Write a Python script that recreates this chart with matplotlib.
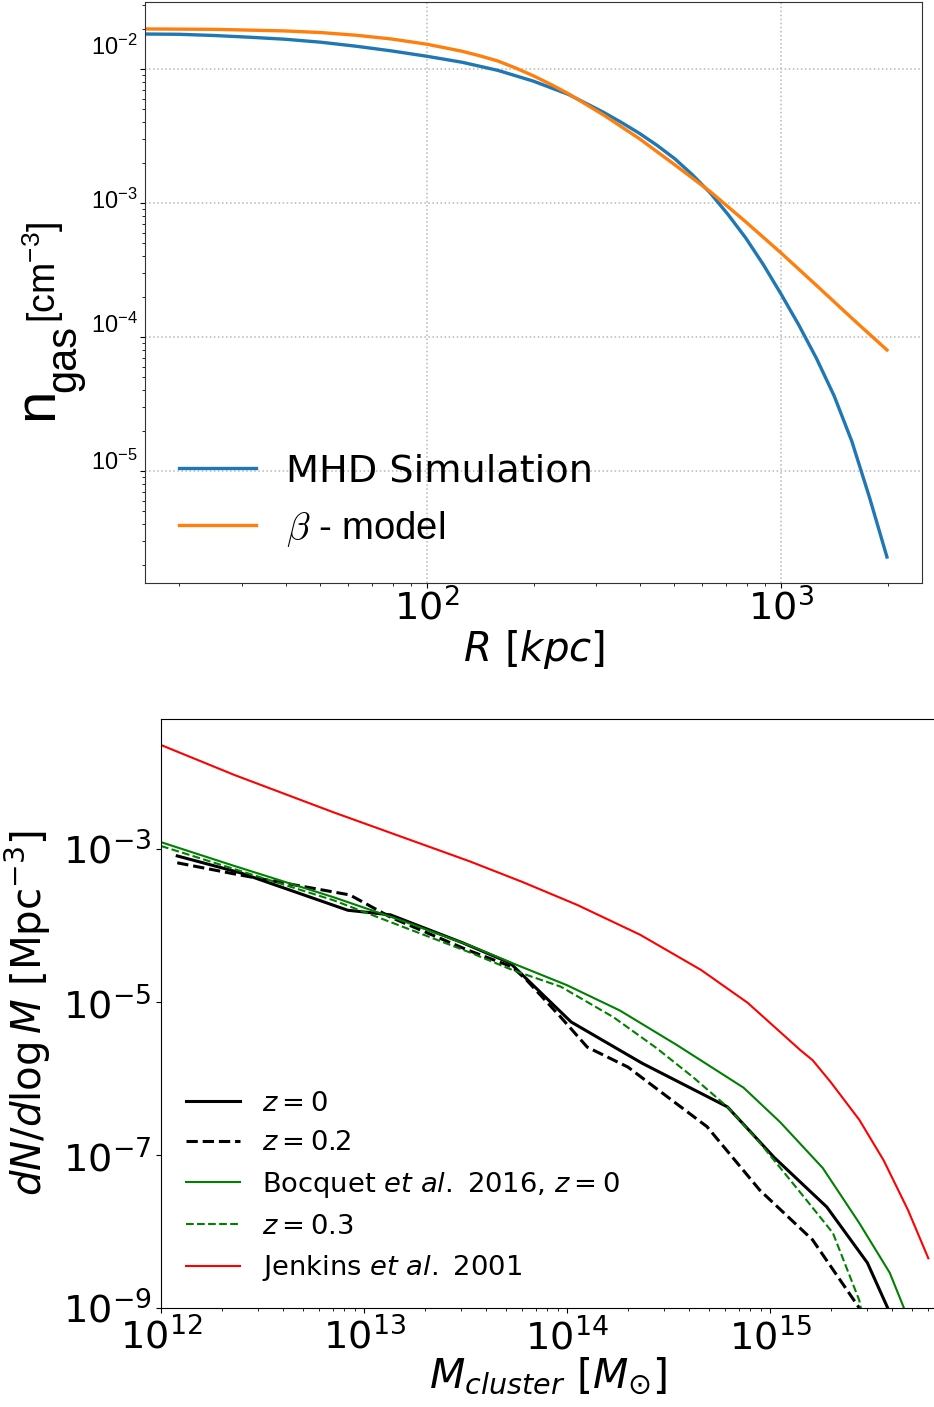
import numpy as np
import matplotlib
matplotlib.use("Agg")
import matplotlib.pyplot as plt
from matplotlib import ticker, transforms

# ---- top panel: gas density profile (log10 R [kpc], log10 n [cm^-3]) ----
logR_sim = [1.203, 1.30, 1.40, 1.50, 1.60, 1.70, 1.80, 1.90, 2.00, 2.10, 2.20, 2.30, 2.40,
            2.50, 2.55, 2.60, 2.65, 2.70, 2.75, 2.80, 2.85, 2.90, 2.95, 3.00, 3.05, 3.10,
            3.15, 3.20, 3.25, 3.299]
logn_sim = [-1.739, -1.741, -1.750, -1.763, -1.778, -1.800, -1.830, -1.865, -1.905, -1.950,
            -2.010, -2.090, -2.190, -2.325, -2.400, -2.480, -2.570, -2.670, -2.790, -2.925,
            -3.085, -3.260, -3.460, -3.680, -3.910, -4.160, -4.440, -4.780, -5.200, -5.642]
logR_beta = [1.203, 1.40, 1.60, 1.70, 1.80, 1.90, 2.00, 2.10, 2.15, 2.20, 2.25, 2.30, 2.35,
             2.40, 2.50, 2.60, 2.70, 2.80, 2.90, 3.00, 3.10, 3.20, 3.299]
logn_beta = [-1.701, -1.704, -1.716, -1.728, -1.748, -1.776, -1.815, -1.868, -1.902, -1.940,
             -1.992, -2.050, -2.115, -2.185, -2.345, -2.520, -2.715, -2.915, -3.140, -3.373,
             -3.615, -3.860, -4.097]
top_yticks   = [1e-2, 1e-3, 1e-4, 1e-5]
top_ylabels  = [r"$\mathregular{10^{-2}}$", r"$\mathregular{10^{-3}}$",
                r"$\mathregular{10^{-4}}$", r"$\mathregular{10^{-5}}$"]
top_label_dy = [14, -6, 4, 1]   # pixel shift of the y tick labels, as in the original

# ---- bottom panel: mass function (log10 M [Msun], log10 dN/dlogM) ----
logM_z0  = [12.08, 12.39, 12.92, 13.13, 13.49, 13.72, 14.02, 14.37, 14.79, 15.02, 15.28, 15.48, 15.58, 15.61]
logdn_z0 = [-3.09, -3.31, -3.80, -3.86, -4.23, -4.49, -5.26, -5.80, -6.37, -7.03, -7.68, -8.41, -9.0, -9.25]
logM_z02  = [12.08, 12.39, 12.93, 13.02, 13.13, 13.51, 13.73, 13.80, 13.97, 14.10, 14.30, 14.69, 14.95, 15.21, 15.44, 15.47]
logdn_z02 = [-3.18, -3.34, -3.60, -3.73, -3.89, -4.32, -4.54, -4.71, -5.20, -5.59, -5.85, -6.63, -7.46, -8.11, -9.0, -9.4]
logM_b0  = [12.0, 12.36, 12.85, 13.18, 13.52, 13.72, 14.0, 14.26, 14.54, 14.87, 15.05, 15.26, 15.44, 15.59, 15.66, 15.70]
logdn_b0 = [-2.91, -3.22, -3.63, -3.93, -4.26, -4.48, -4.78, -5.11, -5.56, -6.12, -6.57, -7.17, -7.89, -8.54, -9.0, -9.3]
logM_b03  = [12.0, 12.85, 13.52, 13.73, 13.97, 14.23, 14.44, 14.62, 14.79, 14.95, 15.18, 15.31, 15.44, 15.47]
logdn_b03 = [-2.96, -3.67, -4.35, -4.58, -4.80, -5.20, -5.60, -5.98, -6.37, -6.84, -7.59, -8.02, -8.90, -9.3]
logM_j  = [12.0, 12.36, 12.85, 13.52, 13.78, 14.05, 14.36, 14.66, 14.89, 15.15, 15.21, 15.30, 15.44, 15.56, 15.68, 15.78]
logdn_j = [-1.64, -2.03, -2.52, -3.16, -3.43, -3.73, -4.12, -4.58, -5.01, -5.63, -5.76, -6.05, -6.54, -7.07, -7.72, -8.35]

W, H = 934, 1407
fig = plt.figure(figsize=(W/100, H/100), dpi=100)

# %% top panel
ax1 = fig.add_axes([145/W, 1-583/H, 777/W, 581/H])
ax1.loglog(10**np.array(logR_sim), 10**np.array(logn_sim), color='#1f77b4', lw=2.4,
           label='MHD Simulation')
ax1.loglog(10**np.array(logR_beta), 10**np.array(logn_beta), color='#ff7f0e', lw=2.4,
           label=r'$\beta$ - model')
ax1.set_xlim(16, 2500)
ax1.set_ylim(10**-5.836, 10**-1.5)
ax1.set_yticks(top_yticks)
ax1.grid(True, which='major', ls=':', color='#b8b8b8', lw=1.1)
ax1.tick_params(axis='y', which='both', labelleft=False)
ax1.tick_params(axis='x', which='major', labelsize=27.5, pad=1)
for sp in ax1.spines.values():
    sp.set_color('#333333')

trans = transforms.blended_transform_factory(ax1.transAxes, ax1.transData)
for yv, lab, dy in zip(top_yticks, top_ylabels, top_label_dy):
    off = transforms.ScaledTranslation(-7/100, dy/100, fig.dpi_scale_trans)
    ax1.text(0, yv, lab, transform=trans + off, ha='right', va='baseline',
             fontsize=17, fontfamily='Liberation Sans')

ax1.set_xlabel(r'$R\ [kpc]$', fontsize=29)
ax1.xaxis.set_label_coords(0.5, -0.078)
ax1.xaxis.label.set_va('top')

leg1 = ax1.legend(loc='lower left', frameon=False, fontsize=27.5)
t = leg1.get_texts()[1]
t.set_fontfamily('Liberation Sans')
t.set_math_fontfamily('cm')

# y label of top panel built from pieces (big n, subscript, unit)
def ftext(x, y, s, size):
    fig.text(x/W, 1-y/H, s, rotation=90, rotation_mode='anchor', ha='center',
             va='baseline', fontsize=size, fontfamily='Liberation Sans')
ftext(52, 404, 'n', 42)
ftext(75, 359, 'gas', 30)
ftext(56, 272, r'$\mathregular{[cm^{-3}]}$', 27)

# %% bottom panel
ax2 = fig.add_axes([161/W, 1-1308/H, 774/W, 589/H])
ax2.loglog(10**np.array(logM_z0), 10**np.array(logdn_z0), 'k-', lw=2.2, label=r'$z=0$')
ax2.loglog(10**np.array(logM_z02), 10**np.array(logdn_z02), 'k--', lw=2.2, label=r'$z=0.2$')
ax2.loglog(10**np.array(logM_b0), 10**np.array(logdn_b0), 'g-', lw=1.5,
           label=r'Bocquet $et\ al.$ 2016, $z=0$')
ax2.loglog(10**np.array(logM_b03), 10**np.array(logdn_b03), 'g--', lw=1.5, label=r'$z=0.3$')
ax2.loglog(10**np.array(logM_j), 10**np.array(logdn_j), 'r-', lw=1.5,
           label=r'Jenkins $et\ al.$ 2001')
ax2.set_xlim(1e12, 6.5e15)
ax2.set_ylim(1e-9, 10**-1.3)
ax2.set_yticks([1e-9, 1e-7, 1e-5, 1e-3])
ax2.yaxis.set_minor_locator(ticker.NullLocator())
ax2.tick_params(which='major', labelsize=27.5)
ax2.set_xlabel(r'$M_{cluster}\ [M_{\odot}]$', fontsize=29.5)
ax2.xaxis.set_label_coords(0.5, -0.082)
ax2.xaxis.label.set_va('top')
ax2.set_ylabel(r'$dN/d\log M\ [\mathrm{Mpc}^{-3}]$', fontsize=29)
ax2.yaxis.set_label_coords(-0.14, 0.5)
ax2.legend(loc='lower left', frameon=False, fontsize=19.7)

fig.savefig('out.png', dpi=100)
